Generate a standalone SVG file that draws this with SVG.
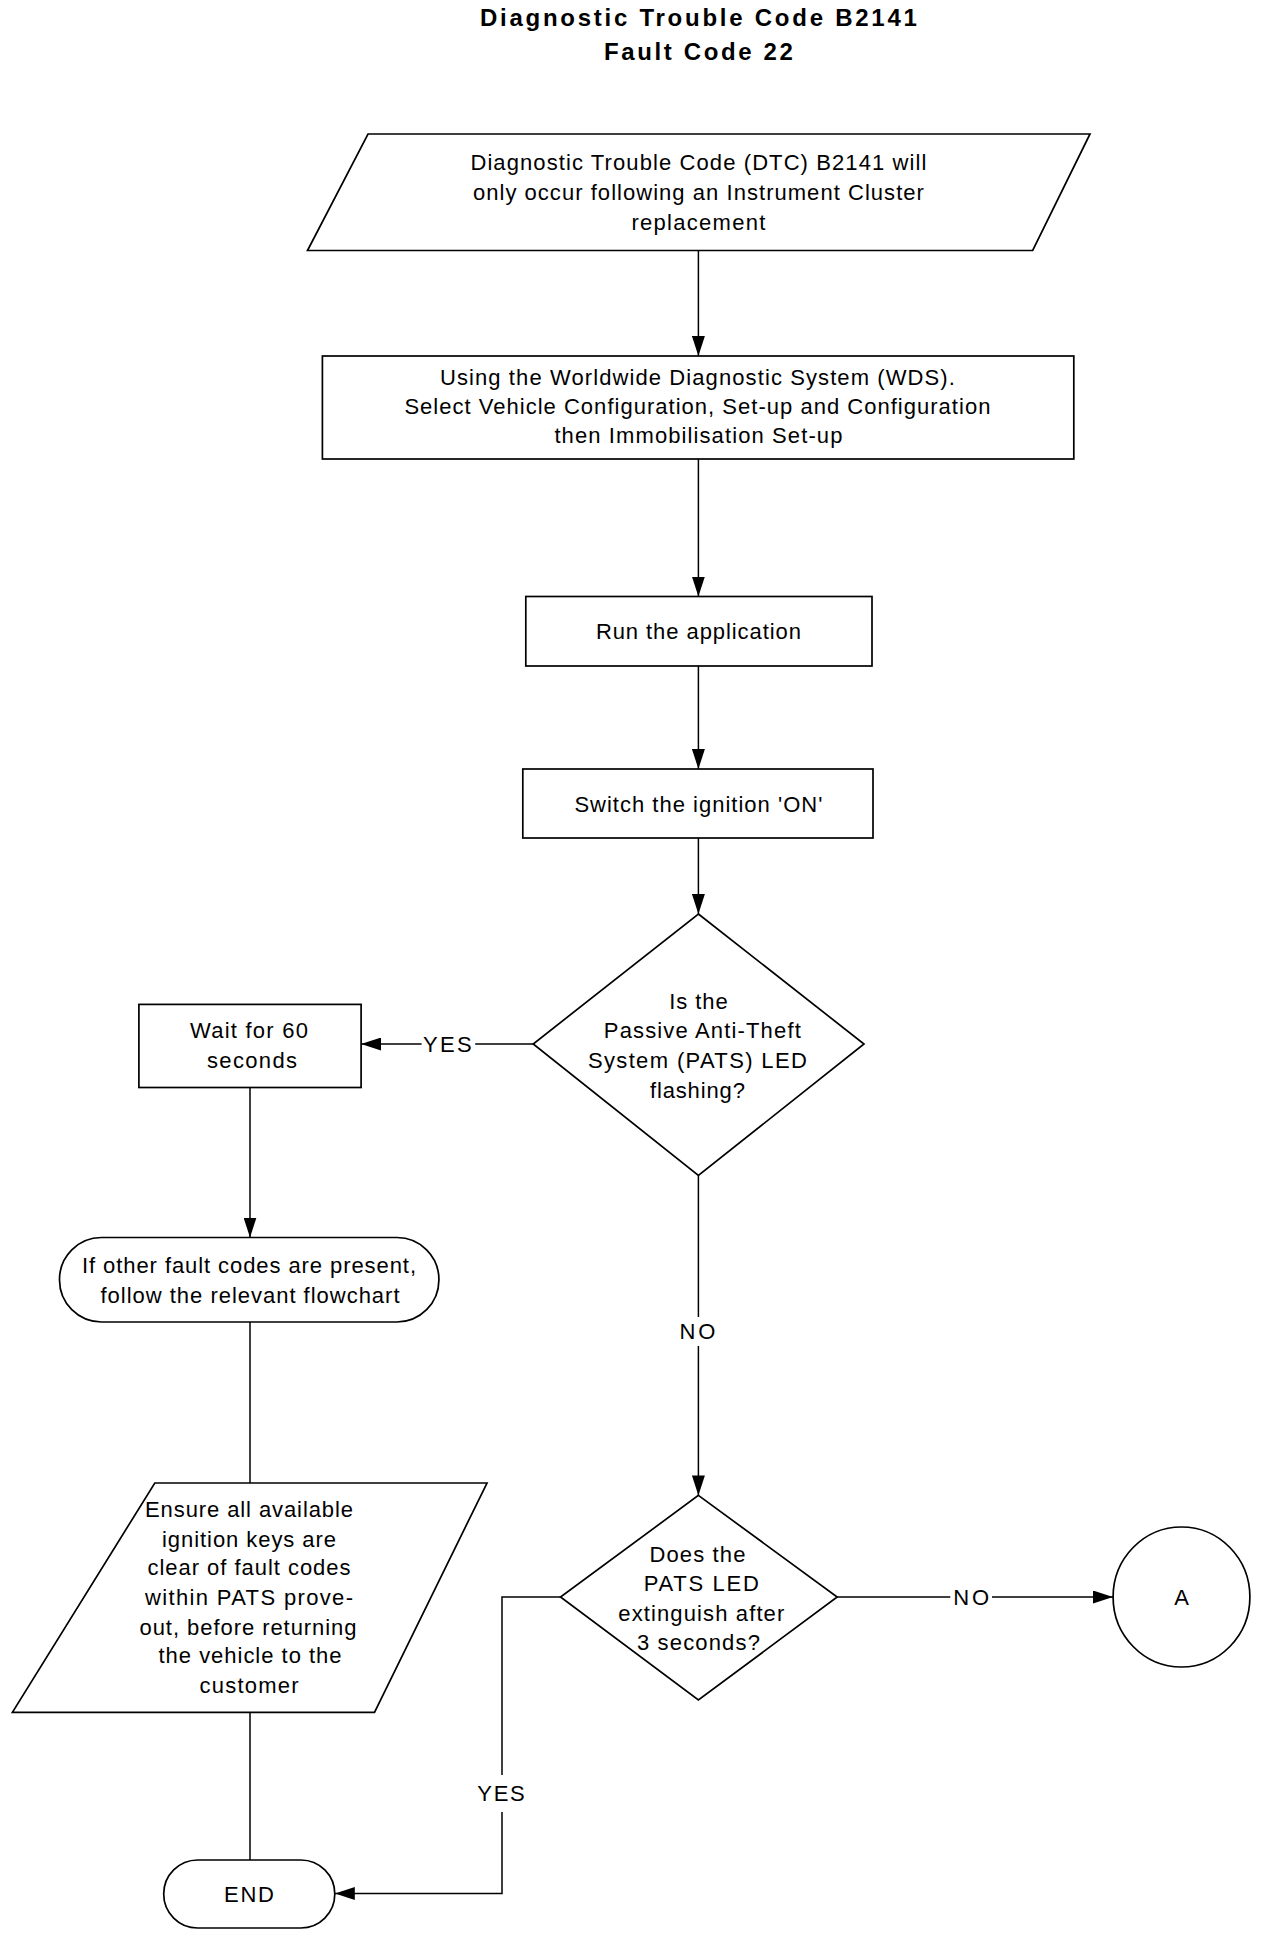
<svg xmlns="http://www.w3.org/2000/svg" width="1280" height="1944" viewBox="0 0 1280 1944">
<style>
.s{fill:#fff;stroke:#000;stroke-width:1.7}
.c{fill:none;stroke:#000;stroke-width:1.5}
.t{font-family:"Liberation Sans",Arial,sans-serif;font-size:22px;fill:#000;text-anchor:middle}
.h{font-family:"Liberation Sans",Arial,sans-serif;font-size:24px;font-weight:bold;fill:#000;text-anchor:middle}
</style>
<defs>
<marker id="ah" viewBox="0 0 20 13" refX="20" refY="6.5" markerWidth="20" markerHeight="13" markerUnits="userSpaceOnUse" orient="auto"><path d="M0,0 L20,6.5 L0,13 z" fill="#000"/></marker>
</defs>
<rect width="1280" height="1944" fill="#fff"/>
<g id="title">
<text class="h" x="698.4" y="25.5" textLength="437" lengthAdjust="spacing">Diagnostic Trouble Code B2141</text>
<text class="h" x="698.4" y="59.5" textLength="189" lengthAdjust="spacing">Fault Code 22</text>
</g>
<g id="connectors">
<line class="c" x1="698.4" y1="250.5" x2="698.4" y2="356" marker-end="url(#ah)"/>
<line class="c" x1="698.4" y1="459" x2="698.4" y2="596.5" marker-end="url(#ah)"/>
<line class="c" x1="698.4" y1="666" x2="698.4" y2="769" marker-end="url(#ah)"/>
<line class="c" x1="698.4" y1="838" x2="698.4" y2="914" marker-end="url(#ah)"/>
<line class="c" x1="533.2" y1="1044" x2="475.2" y2="1044"/>
<line class="c" x1="421.6" y1="1044" x2="361.1" y2="1044" marker-end="url(#ah)"/>
<line class="c" x1="250" y1="1087.5" x2="250" y2="1237.5" marker-end="url(#ah)"/>
<line class="c" x1="250" y1="1322" x2="250" y2="1483"/>
<line class="c" x1="250" y1="1712.4" x2="250" y2="1860"/>
<line class="c" x1="698.4" y1="1175.5" x2="698.4" y2="1317"/>
<line class="c" x1="698.4" y1="1346" x2="698.4" y2="1495.4" marker-end="url(#ah)"/>
<line class="c" x1="837.2" y1="1597" x2="950.3" y2="1597"/>
<line class="c" x1="992" y1="1597" x2="1113" y2="1597" marker-end="url(#ah)"/>
<polyline class="c" points="560.5,1597 502,1597 502,1775"/>
<polyline class="c" points="502,1812 502,1893.5 334.8,1893.5" marker-end="url(#ah)"/>
<text class="t" x="447.4" y="1052" textLength="48.6" lengthAdjust="spacing">YES</text>
<text class="t" x="697.4" y="1338.5" textLength="35.7" lengthAdjust="spacing">NO</text>
<text class="t" x="971.2" y="1605" textLength="35.7" lengthAdjust="spacing">NO</text>
<text class="t" x="501" y="1801" textLength="47.6" lengthAdjust="spacing">YES</text>
</g>
<g id="n1">
<polygon class="s" points="368,134 1090,134 1032.7,250.5 307.5,250.5"/>
<text class="t" x="698.4" y="170" textLength="456" lengthAdjust="spacing">Diagnostic Trouble Code (DTC) B2141 will</text>
<text class="t" x="698.4" y="200" textLength="451" lengthAdjust="spacing">only occur following an Instrument Cluster</text>
<text class="t" x="698.4" y="229.5" textLength="134" lengthAdjust="spacing">replacement</text>
</g>
<g id="n2">
<rect class="s" x="322.4" y="356" width="751.4" height="103"/>
<text class="t" x="697.4" y="384.5" textLength="515" lengthAdjust="spacing">Using the Worldwide Diagnostic System (WDS).</text>
<text class="t" x="697.4" y="414" textLength="586" lengthAdjust="spacing">Select Vehicle Configuration, Set-up and Configuration</text>
<text class="t" x="698.4" y="443" textLength="288" lengthAdjust="spacing">then Immobilisation Set-up</text>
</g>
<g id="n3">
<rect class="s" x="525.8" y="596.5" width="346.2" height="69.5"/>
<text class="t" x="698.4" y="639" textLength="205" lengthAdjust="spacing">Run the application</text>
</g>
<g id="n4">
<rect class="s" x="522.8" y="769" width="350.2" height="69"/>
<text class="t" x="698.4" y="811.5" textLength="248" lengthAdjust="spacing">Switch the ignition 'ON'</text>
</g>
<g id="d1">
<polygon class="s" points="698.4,914 864,1044 698.4,1175.5 533.2,1044"/>
<text class="t" x="698.4" y="1008.5" textLength="58.5" lengthAdjust="spacing">Is the</text>
<text class="t" x="702.3" y="1038" textLength="197" lengthAdjust="spacing">Passive Anti-Theft</text>
<text class="t" x="697.4" y="1068" textLength="219" lengthAdjust="spacing">System (PATS) LED</text>
<text class="t" x="697.4" y="1097.5" textLength="95" lengthAdjust="spacing">flashing?</text>
</g>
<g id="n5">
<rect class="s" x="138.9" y="1004.4" width="222.2" height="83.1"/>
<text class="t" x="249" y="1038" textLength="118" lengthAdjust="spacing">Wait for 60</text>
<text class="t" x="252" y="1068" textLength="90" lengthAdjust="spacing">seconds</text>
</g>
<g id="n6">
<rect class="s" x="59.5" y="1237.5" width="379.4" height="84.5" rx="42" ry="42"/>
<text class="t" x="249" y="1272.5" textLength="334" lengthAdjust="spacing">If other fault codes are present,</text>
<text class="t" x="250" y="1302.5" textLength="299" lengthAdjust="spacing">follow the relevant flowchart</text>
</g>
<g id="n7">
<polygon class="s" points="154.8,1483 487,1483 374.5,1712.4 12.4,1712.4"/>
<text class="t" x="249" y="1516.5" textLength="208" lengthAdjust="spacing">Ensure all available</text>
<text class="t" x="249" y="1546.5" textLength="174" lengthAdjust="spacing">ignition keys are</text>
<text class="t" x="249" y="1575" textLength="203" lengthAdjust="spacing">clear of fault codes</text>
<text class="t" x="249" y="1604.5" textLength="208" lengthAdjust="spacing">within PATS prove-</text>
<text class="t" x="248" y="1634.5" textLength="217" lengthAdjust="spacing">out, before returning</text>
<text class="t" x="250" y="1663" textLength="183" lengthAdjust="spacing">the vehicle to the</text>
<text class="t" x="249" y="1692.5" textLength="99" lengthAdjust="spacing">customer</text>
</g>
<g id="n8">
<rect class="s" x="163.7" y="1860" width="171.1" height="68" rx="34" ry="34"/>
<text class="t" x="249" y="1901.5" textLength="50" lengthAdjust="spacing">END</text>
</g>
<g id="d2">
<polygon class="s" points="698.4,1495.4 837.2,1597 698.4,1700 560.5,1597"/>
<text class="t" x="697.4" y="1561.5" textLength="96" lengthAdjust="spacing">Does the</text>
<text class="t" x="701.3" y="1591" textLength="115" lengthAdjust="spacing">PATS LED</text>
<text class="t" x="701.3" y="1620.5" textLength="166" lengthAdjust="spacing">extinguish after</text>
<text class="t" x="698.4" y="1649.5" textLength="123" lengthAdjust="spacing">3 seconds?</text>
</g>
<g id="nA">
<ellipse class="s" cx="1181.5" cy="1597" rx="68.4" ry="70"/>
<text class="t" x="1181.5" y="1605">A</text>
</g>
</svg>
